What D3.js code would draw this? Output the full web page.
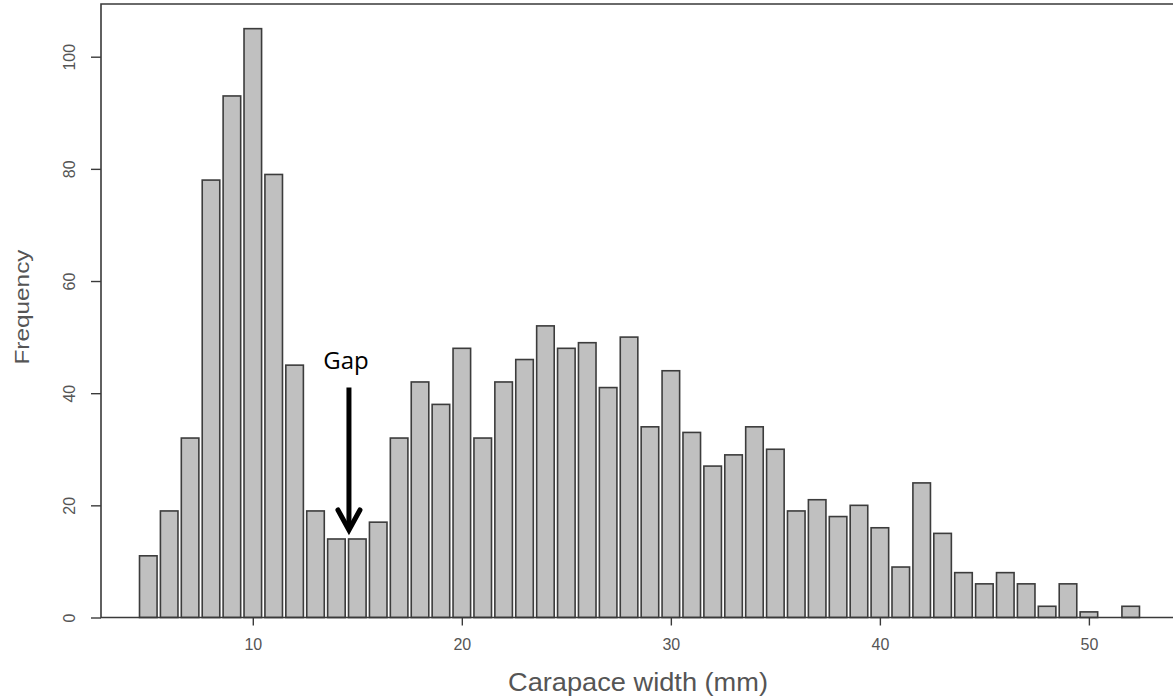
<!DOCTYPE html>
<html>
<head>
<meta charset="utf-8">
<script src="https://cdn.jsdelivr.net/npm/d3@7"></script>
<style>
  html, body { margin: 0; padding: 0; background: #fff; }
  svg { display: block; }
</style>
</head>
<body>
<svg id="chart" width="1173" height="700"></svg>
<script>
// Carapace width classes (mm) and their counts
const widths = [5, 6, 7, 8, 9, 10, 11, 12, 13, 14, 15, 16, 17, 18, 19, 20,
  21, 22, 23, 24, 25, 26, 27, 28, 29, 30, 31, 32, 33, 34, 35, 36, 37, 38, 39,
  40, 41, 42, 43, 44, 45, 46, 47, 48, 49, 50, 52];
const counts = [11, 19, 32, 78, 93, 105, 79, 45, 19, 14, 14, 17, 32, 42, 38, 48,
  32, 42, 46, 52, 48, 49, 41, 50, 34, 44, 33, 27, 29, 34, 30, 19, 21, 18, 20,
  16, 9, 24, 15, 8, 6, 8, 6, 2, 6, 1, 2];

const xTicks = [10, 20, 30, 40, 50];
const yTicks = [0, 20, 40, 60, 80, 100];

const xTitle = "Carapace width (mm)";
const yTitle = "Frequency";
const gapLabel = "Gap";
const gapAt = 14.6;       // boundary between the 14 and 15 mm classes
const gapArrowFrom = 41;  // arrow start, in frequency units

const svg = d3.select("#chart");

const frame = { left: 101, top: 4, right: 1173, bottom: 617.5 };

const x = d3.scaleLinear().domain([10, 50]).range([252.8, 1088.9]);
const y = d3.scaleLinear().domain([0, 100]).range([frame.bottom, 56.7]);

const barHalf = 0.42;
const axisColor = "#3a3a3a";
const textColor = "#555";

// bars
svg.append("g")
  .selectAll("rect")
  .data(widths.map((w, i) => ({ w, n: counts[i] })))
  .join("rect")
  .attr("x", d => x(d.w - barHalf))
  .attr("width", d => x(d.w + barHalf) - x(d.w - barHalf))
  .attr("y", d => y(d.n))
  .attr("height", d => y(0) - y(d.n))
  .attr("fill", "#c0c0c0")
  .attr("stroke", "#3c3c3c")
  .attr("stroke-width", 1.6);

// plot frame (left, top, bottom)
const box = svg.append("g").attr("fill", "none").attr("stroke", axisColor).attr("stroke-width", 1.6);
box.append("path")
  .attr("d", `M${frame.right},${frame.top}H${frame.left}V${frame.bottom}H${frame.right}`);

// x axis ticks and labels
const xAxis = svg.append("g")
  .attr("transform", `translate(0,${frame.bottom})`)
  .call(d3.axisBottom(x).tickValues(xTicks).tickSize(8).tickPadding(13).tickSizeOuter(0));
xAxis.select(".domain").remove();
xAxis.selectAll(".tick line").attr("stroke", axisColor).attr("stroke-width", 1.4);
xAxis.selectAll(".tick text")
  .attr("fill", textColor)
  .attr("font-family", "'Liberation Sans', Arial, sans-serif")
  .attr("font-size", 16);

// y axis ticks and rotated labels
const yAxis = svg.append("g")
  .attr("transform", `translate(${frame.left},0)`)
  .call(d3.axisLeft(y).tickValues(yTicks).tickSize(10).tickSizeOuter(0));
yAxis.select(".domain").remove();
yAxis.selectAll(".tick line").attr("stroke", axisColor).attr("stroke-width", 1.4);
yAxis.selectAll(".tick text")
  .attr("fill", textColor)
  .attr("font-family", "'Liberation Sans', Arial, sans-serif")
  .attr("font-size", 16)
  .attr("x", null).attr("dy", null)
  .attr("text-anchor", "middle")
  .attr("transform", "translate(-32,0) rotate(-90)")
  .attr("dominant-baseline", "central");

// axis titles
svg.append("text")
  .attr("x", 638)
  .attr("y", 691)
  .attr("text-anchor", "middle")
  .attr("fill", textColor)
  .attr("font-family", "'Liberation Sans', Arial, sans-serif")
  .attr("font-size", 25)
  .attr("textLength", 260)
  .attr("lengthAdjust", "spacingAndGlyphs")
  .text(xTitle);

svg.append("text")
  .attr("transform", `translate(29,307) rotate(-90)`)
  .attr("text-anchor", "middle")
  .attr("fill", textColor)
  .attr("font-family", "'Liberation Sans', Arial, sans-serif")
  .attr("font-size", 21)
  .attr("textLength", 115)
  .attr("lengthAdjust", "spacingAndGlyphs")
  .text(yTitle);

// "Gap" annotation with a downward arrow
const ax = x(gapAt);
const ann = svg.append("g");
ann.append("text")
  .attr("x", ax - 3)
  .attr("y", 369)
  .attr("text-anchor", "middle")
  .attr("fill", "#000")
  .attr("font-family", "'Open Sans', 'Noto Sans', sans-serif")
  .attr("font-size", 24)
  .text(gapLabel);
const tipY = y(counts[widths.indexOf(15)]) - 9;
ann.append("line")
  .attr("x1", ax).attr("x2", ax)
  .attr("y1", y(gapArrowFrom)).attr("y2", tipY - 2)
  .attr("stroke", "#000").attr("stroke-width", 5);
ann.append("path")
  .attr("d", `M${ax - 11},${tipY - 20}L${ax},${tipY}L${ax + 11},${tipY - 20}`)
  .attr("fill", "none").attr("stroke", "#000").attr("stroke-width", 5)
  .attr("stroke-linecap", "round");
</script>
</body>
</html>
